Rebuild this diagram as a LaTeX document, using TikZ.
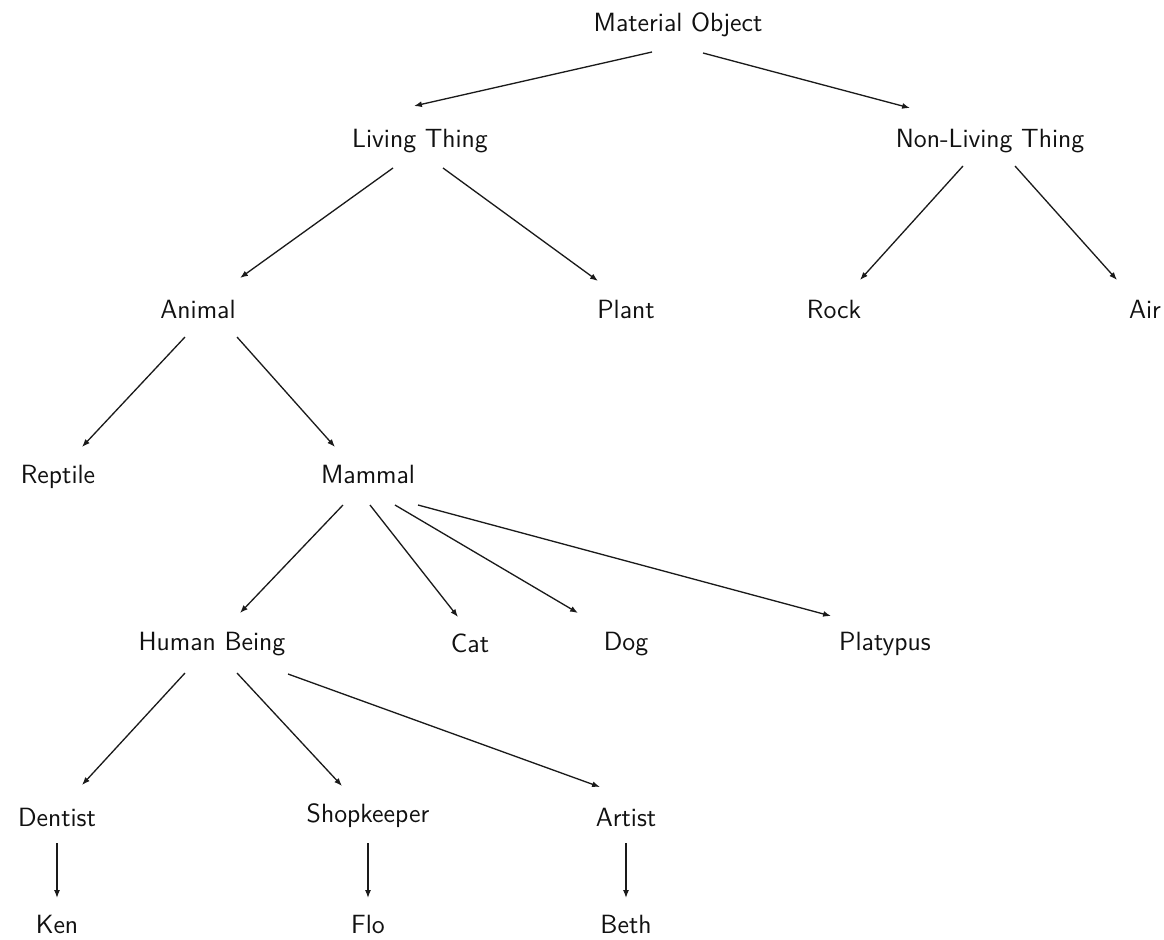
\documentclass[tikz,border=0pt]{standalone}
\usepackage{xcolor}
\usetikzlibrary{arrows.meta}
\definecolor{linkblack}{HTML}{1A1A1A}
\definecolor{textblack}{HTML}{111111}

\begin{document}
\begin{tikzpicture}[x=0.02cm, y=-0.02cm, line width=0.75pt, >={Latex[length=4.5pt,width=3.4pt]},
  term/.style={anchor=base, inner sep=0pt, text=textblack, font=\sffamily\fontsize{15}{18}\selectfont}]
  \useasboundingbox (0,0) rectangle (1164,940);

  \node[term] (mat) at (678,31) {Material Object};
  \node[term] (liv) at (420,147) {Living Thing};
  \node[term] (non) at (990,147) {Non-Living Thing};
  \node[term] (ani) at (198,318) {Animal};
  \node[term] (pla) at (626,318) {Plant};
  \node[term] (roc) at (834,318) {Rock};
  \node[term] (air) at (1145,318) {Air};
  \node[term] (rep) at (58,483) {Reptile};
  \node[term] (mam) at (368,483) {Mammal};
  \node[term] (hum) at (212,650) {Human Being};
  \node[term] (cat) at (470,652) {Cat};
  \node[term] (dog) at (626,650) {Dog};
  \node[term] (plt) at (885,650) {Platypus};
  \node[term] (den) at (57,826) {Dentist};
  \node[term] (sho) at (368,822) {Shopkeeper};
  \node[term] (art) at (626,826) {Artist};
  \node[term] (ken) at (57,933) {Ken};
  \node[term] (flo) at (368,933) {Flo};
  \node[term] (bet) at (626,933) {Beth};

  \draw[linkblack, ->] ([shift={(-26,21)}]mat.base) -- ([shift={(-6,-41)}]liv.base);
  \draw[linkblack, ->] ([shift={(25,22)}]mat.base) -- ([shift={(-80,-39)}]non.base);

  \draw[linkblack, ->] ([shift={(-27,21)}]liv.base) -- ([shift={(42,-40)}]ani.base);
  \draw[linkblack, ->] ([shift={(23,21)}]liv.base) -- ([shift={(-28,-37)}]pla.base);
  \draw[linkblack, ->] ([shift={(-27,19)}]non.base) -- ([shift={(26,-38)}]roc.base);
  \draw[linkblack, ->] ([shift={(25,19)}]non.base) -- ([shift={(-28,-38)}]air.base);

  \draw[linkblack, ->] ([shift={(-13,19)}]ani.base) -- ([shift={(24,-36)}]rep.base);
  \draw[linkblack, ->] ([shift={(39,19)}]ani.base) -- ([shift={(-33,-36)}]mam.base);

  \draw[linkblack, ->] ([shift={(-25,22)}]mam.base) -- ([shift={(28,-37)}]hum.base);
  \draw[linkblack, ->] ([shift={(2,22)}]mam.base) -- ([shift={(-12,-35)}]cat.base);
  \draw[linkblack, ->] ([shift={(27,22)}]mam.base) -- ([shift={(-48,-37)}]dog.base);
  \draw[linkblack, ->] ([shift={(50,22)}]mam.base) -- ([shift={(-54,-34)}]plt.base);

  \draw[linkblack, ->] ([shift={(-27,23)}]hum.base) -- ([shift={(25,-41)}]den.base);
  \draw[linkblack, ->] ([shift={(25,23)}]hum.base) -- ([shift={(-26,-36)}]sho.base);
  \draw[linkblack, ->] ([shift={(76,24)}]hum.base) -- ([shift={(-26,-39)}]art.base);

  \draw[linkblack, ->] ([shift={(0,17)}]den.base) -- ([shift={(0,-35)}]ken.base);
  \draw[linkblack, ->] ([shift={(0,21)}]sho.base) -- ([shift={(0,-35)}]flo.base);
  \draw[linkblack, ->] ([shift={(0,17)}]art.base) -- ([shift={(0,-35)}]bet.base);
\end{tikzpicture}
\end{document}
